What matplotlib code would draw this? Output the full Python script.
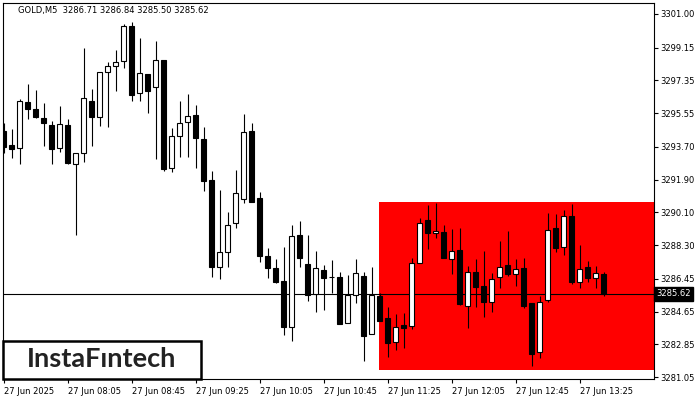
import matplotlib.pyplot as plt
from matplotlib.patches import Rectangle
import matplotlib.transforms as mtransforms

# GOLD, M5 candles (27 Jun 2025, 07:25 .. 13:40)
opens = [3294.59, 3293.80, 3293.62, 3296.15, 3295.76, 3295.27, 3294.90, 3293.62, 3294.90, 3292.74,
         3293.35, 3296.22, 3295.32, 3297.83, 3298.16, 3298.43, 3300.34, 3296.64, 3297.70, 3297.01,
         3298.47, 3292.52, 3294.30, 3295.05, 3295.45, 3294.13, 3291.88, 3287.08, 3287.94, 3289.50,
         3290.82, 3294.57, 3290.87, 3287.70, 3287.03, 3286.33, 3283.82, 3288.86, 3287.26, 3285.60,
         3286.93, 3286.53, 3286.53, 3284.01, 3285.56, 3286.60, 3283.40, 3285.51, 3284.28, 3282.99,
         3283.90, 3283.84, 3287.30, 3289.68, 3288.94, 3289.00, 3287.52, 3288.03, 3284.97, 3286.81,
         3286.05, 3285.16, 3286.53, 3287.21, 3286.70, 3287.03, 3285.12, 3282.41, 3285.27, 3289.23,
         3288.18, 3289.90, 3286.26, 3287.10, 3286.48, 3286.71]
highs = [3294.99, 3294.66, 3296.31, 3297.15, 3296.82, 3296.13, 3295.12, 3295.95, 3295.21, 3293.35,
         3299.12, 3296.86, 3297.80, 3298.38, 3299.02, 3300.43, 3300.58, 3299.70, 3297.70, 3299.52,
         3298.47, 3294.72, 3296.22, 3296.60, 3296.00, 3294.77, 3292.37, 3291.33, 3290.10, 3292.43,
         3295.51, 3295.03, 3291.20, 3288.13, 3287.54, 3288.21, 3289.41, 3289.63, 3288.86, 3287.98,
         3287.21, 3287.48, 3286.81, 3286.66, 3287.54, 3286.81, 3287.11, 3285.65, 3284.90, 3284.52,
         3284.57, 3287.59, 3289.81, 3290.51, 3290.62, 3289.41, 3289.19, 3289.22, 3287.15, 3287.54,
         3287.98, 3286.75, 3288.53, 3289.08, 3287.52, 3287.58, 3285.12, 3285.49, 3290.05, 3289.99,
         3290.23, 3290.54, 3288.31, 3287.43, 3287.15, 3286.84]
lows = [3293.35, 3293.10, 3292.74, 3295.21, 3295.30, 3293.76, 3292.74, 3293.43, 3292.74, 3288.83,
        3292.88, 3293.75, 3294.86, 3294.81, 3296.77, 3298.02, 3296.24, 3296.24, 3295.58, 3293.03,
        3292.39, 3292.30, 3293.16, 3293.14, 3292.52, 3291.29, 3286.57, 3286.42, 3287.11, 3289.26,
        3290.60, 3290.69, 3287.36, 3286.48, 3286.20, 3283.36, 3283.03, 3287.11, 3285.23, 3284.64,
        3284.71, 3285.65, 3283.95, 3284.01, 3285.10, 3281.95, 3283.40, 3284.13, 3282.17, 3282.54,
        3282.66, 3283.71, 3287.30, 3288.06, 3288.67, 3287.61, 3286.71, 3285.01, 3283.73, 3284.92,
        3284.37, 3284.61, 3285.93, 3286.62, 3286.07, 3284.86, 3281.68, 3282.08, 3285.19, 3287.94,
        3287.76, 3286.17, 3285.96, 3286.29, 3285.93, 3285.50]
closes = [3293.71, 3293.57, 3296.22, 3295.76, 3295.32, 3295.03, 3293.57, 3294.94, 3292.80, 3293.35,
          3296.37, 3295.36, 3297.80, 3298.16, 3298.35, 3300.34, 3296.55, 3297.74, 3296.79, 3298.47,
          3292.48, 3294.30, 3295.00, 3295.40, 3294.21, 3291.82, 3287.11, 3287.91, 3289.39, 3291.15,
          3294.50, 3290.69, 3287.72, 3287.03, 3286.29, 3283.82, 3288.80, 3287.61, 3285.56, 3287.03,
          3286.47, 3286.53, 3283.95, 3285.56, 3286.75, 3283.32, 3285.56, 3284.13, 3282.94, 3283.82,
          3283.76, 3287.30, 3289.50, 3288.94, 3289.08, 3287.61, 3287.95, 3285.07, 3286.84, 3286.02,
          3285.19, 3286.42, 3287.08, 3286.71, 3286.97, 3284.97, 3282.34, 3285.16, 3289.12, 3288.13,
          3289.90, 3286.29, 3286.99, 3286.51, 3286.75, 3285.62]

# pattern rectangle
box_start = 46.94
box_low, box_high = 3281.44, 3290.67
last_price = 3285.62

ytick_vals = [3301.00, 3299.15, 3297.35, 3295.55, 3293.70, 3291.90,
              3290.10, 3288.30, 3286.45, 3284.65, 3282.85, 3281.05]
xtick_idx = [0, 8, 16, 24, 32, 40, 48, 56, 64, 72]
xtick_labels = ['27 Jun 2025', '27 Jun 08:05', '27 Jun 08:45', '27 Jun 09:25', '27 Jun 10:05',
                '27 Jun 10:45', '27 Jun 11:25', '27 Jun 12:05', '27 Jun 12:45', '27 Jun 13:25']

plt.rcParams['font.family'] = ['DejaVu Sans']

fig = plt.figure(figsize=(7, 4), dpi=100)
ax = fig.add_axes([2.5 / 700, 21 / 400, 651 / 700, 376.5 / 400])

ax.add_patch(Rectangle((box_start, box_low), 60, box_high - box_low,
                       facecolor='#ff0000', edgecolor='none', zorder=0))
ax.axhline(last_price, color='black', linewidth=0.8, zorder=1)

x = list(range(len(opens)))
ax.vlines(x, lows, highs, color='black', linewidth=0.8, zorder=2)
for i in x:
    o, c = opens[i], closes[i]
    up = c > o
    ax.bar(i, max(abs(c - o), 0.02), width=0.55, bottom=min(o, c),
           color='white' if up else 'black', edgecolor='black', linewidth=0.8, zorder=3)

ax.set_xlim(-0.125, 81.25)
ax.set_ylim(3280.945, 3301.63)

ax.yaxis.tick_right()
ax.set_yticks(ytick_vals)
ax.set_yticklabels([f'{v:.2f}' for v in ytick_vals])
ax.set_xticks(xtick_idx)
ax.set_xticklabels(xtick_labels, ha='left')
ax.tick_params(axis='both', direction='out', length=3, width=0.8, labelsize=6,
               colors='black', pad=2)
ax.tick_params(axis='x', pad=3)
for s in ax.spines.values():
    s.set_linewidth(0.8)

# current price tag
trans = mtransforms.blended_transform_factory(ax.transAxes, ax.transData)
ax.text(1.004, last_price, '3285.62', transform=trans, color='white', fontsize=6,
        ha='left', va='center', zorder=10, clip_on=False,
        bbox=dict(boxstyle='square,pad=0.3', facecolor='black', edgecolor='black'))

fig.text(18 / 700, 1 - 11 / 400, 'GOLD,M5  3286.71 3286.84 3285.50 3285.62',
         fontsize=6, ha='left', va='center', color='black')

# logo
fig.patches.append(Rectangle((3 / 700, 21 / 400), 198 / 700, 38 / 400, transform=fig.transFigure,
                             facecolor='white', edgecolor='black', linewidth=1.8, zorder=20))
fig.text(102 / 700, 1 - 359 / 400, 'InstaF\u0131ntech', fontsize=19.5, family='Lato',
         fontweight='bold', ha='center', va='center', color='#222222', zorder=21)

fig.savefig('out.png', dpi=100)
